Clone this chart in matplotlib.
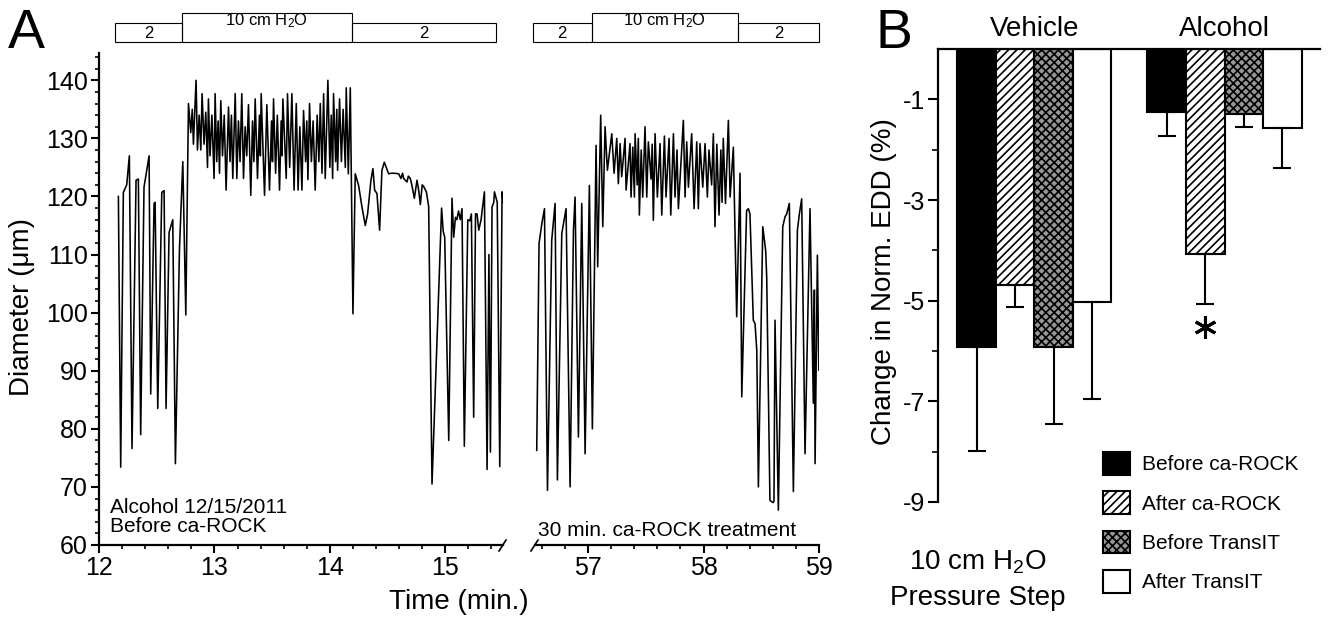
import numpy as np
import matplotlib
matplotlib.use('Agg')
import matplotlib.pyplot as plt
import matplotlib.transforms as mtransforms
from matplotlib.patches import Rectangle
from matplotlib.lines import Line2D
from matplotlib.ticker import MultipleLocator, FixedLocator

plt.rcParams['font.family'] = ['Liberation Sans', 'DejaVu Sans']
plt.rcParams['mathtext.fontset'] = 'custom'
plt.rcParams['mathtext.rm'] = 'Liberation Sans'
plt.rcParams['mathtext.it'] = 'Liberation Sans:italic'
plt.rcParams['axes.unicode_minus'] = False
plt.rcParams['hatch.linewidth'] = 1.2

# ---- panel A: diameter traces (min, um) ----
trace1_t = [12.168, 12.188, 12.211, 12.240, 12.263, 12.286, 12.321, 12.341, 12.361, 12.390,
            12.434, 12.448, 12.477, 12.486, 12.509, 12.544, 12.564, 12.581, 12.607, 12.639,
            12.662, 12.697, 12.726, 12.752, 12.775,
            12.795, 12.808, 12.818, 12.841, 12.853, 12.868, 12.882, 12.893, 12.910, 12.925,
            12.940, 12.948, 12.962, 12.978, 12.997, 13.006, 13.020, 13.032, 13.044, 13.055,
            13.070, 13.085, 13.101, 13.122, 13.135, 13.147, 13.159, 13.180, 13.194, 13.208,
            13.222, 13.237, 13.252, 13.266, 13.280, 13.295, 13.315, 13.330, 13.342, 13.353,
            13.373, 13.390, 13.398, 13.405, 13.434, 13.454, 13.477, 13.495, 13.503, 13.512,
            13.530, 13.545, 13.564, 13.578, 13.585, 13.593, 13.622, 13.633, 13.652, 13.671,
            13.690, 13.709, 13.725, 13.740, 13.758, 13.772, 13.790, 13.800, 13.810, 13.824,
            13.840, 13.855, 13.873, 13.890, 13.905, 13.917, 13.932, 13.946, 13.960, 13.983,
            14.000, 14.012, 14.024, 14.032, 14.050, 14.060, 14.067, 14.084, 14.100, 14.115,
            14.134, 14.142, 14.160, 14.177,
            14.200, 14.220, 14.249, 14.278, 14.307, 14.327, 14.356, 14.373, 14.388, 14.408,
            14.431, 14.451, 14.472, 14.509, 14.530, 14.560, 14.596, 14.616, 14.630, 14.639,
            14.668, 14.680, 14.697, 14.710, 14.732, 14.755, 14.770, 14.784, 14.800, 14.813,
            14.836, 14.856, 14.885,
            14.968, 14.982, 14.995, 15.030, 15.058, 15.073, 15.088, 15.100, 15.115, 15.130,
            15.145, 15.165, 15.195, 15.212, 15.226, 15.246, 15.262, 15.275, 15.290, 15.310,
            15.339, 15.362, 15.378, 15.391, 15.405, 15.420, 15.426, 15.450, 15.472, 15.492,
            15.501]
trace1_d = [120, 73.4, 120.7, 122, 127, 76.6, 122.8, 123, 79, 121.6,
            127, 86, 118.8, 119, 83.5, 120.7, 121, 83.5, 113.8, 116,
            74, 110.9, 126, 99.6, 136,
            131, 135, 129, 140, 128, 134, 128, 137.7, 129, 134.5,
            125, 136.8, 127, 134, 123.1, 137.7, 126, 133, 124, 136.5,
            127, 134, 121.1, 135.4, 126, 134, 123.1, 137.7, 123.1, 133,
            126, 137.7, 123.1, 132, 127, 135.8, 120.2, 133, 126, 136.8,
            123.1, 134, 127, 137.7, 120.2, 135.8, 121.1, 133, 126, 136.8,
            124, 134, 121.1, 133, 127, 136.8, 123.1, 137.7, 125, 137.7,
            121.1, 136, 121.1, 132, 121.1, 134.8, 126, 133, 122.9, 136,
            126, 133, 121.1, 134, 126, 136, 124, 137.7, 123.1, 140,
            125, 134, 123.1, 137.7, 126, 135, 124.5, 136.8, 126, 135,
            125, 138.7, 123.9, 138.7,
            99.8, 123.9, 121.9, 118.2, 115, 117, 122.8, 124.8, 121.1, 120.5,
            114.2, 124.5, 125.9, 123.9, 124, 124, 123.9, 123.1, 124, 123.1,
            122.5, 123.5, 123.1, 122, 119.7, 122.8, 121, 118.6, 122, 121.7,
            120.8, 118.3, 70.5,
            118, 114, 113, 78, 119.7, 113, 116.4, 116, 117.5, 116,
            117.9, 77, 116, 115.8, 117, 82, 117, 117, 114.2, 116,
            120.8, 73, 110, 76, 118.2, 119, 120.8, 119, 73.5, 120.8,
            119]

trace2_t = [56.555, 56.575, 56.599, 56.622, 56.648, 56.685, 56.714, 56.734, 56.772, 56.809,
            56.844, 56.873, 56.887, 56.916, 56.945, 56.974, 57.011, 57.037, 57.069, 57.083,
            57.109, 57.127, 57.147, 57.167, 57.205, 57.225, 57.248, 57.262, 57.277, 57.291,
            57.320, 57.329, 57.363, 57.372, 57.387, 57.401, 57.407, 57.425, 57.435, 57.444,
            57.460, 57.473, 57.493, 57.508, 57.522, 57.545, 57.555, 57.565, 57.580, 57.600,
            57.623, 57.638, 57.661, 57.675, 57.701, 57.716, 57.739, 57.753, 57.770, 57.782,
            57.825, 57.840, 57.854, 57.869, 57.897, 57.918, 57.941, 57.955, 57.969, 57.993,
            58.013, 58.033, 58.047, 58.070, 58.085, 58.099, 58.115, 58.134, 58.150, 58.160,
            58.171, 58.190, 58.215, 58.230, 58.258, 58.287, 58.316, 58.331, 58.373, 58.388,
            58.402, 58.431, 58.446, 58.461, 58.475, 58.513, 58.538, 58.547, 58.575, 58.600,
            58.610, 58.619, 58.648, 58.686, 58.706, 58.720, 58.743, 58.778, 58.813, 58.830,
            58.850, 58.879, 58.922, 58.951, 58.960, 58.966, 58.986, 58.998]
trace2_d = [76.3, 111.9, 115.3, 117.9, 69.4, 112.5, 118.8, 71.2, 113.6, 117.9,
            70, 114.2, 119.9, 78.6, 118.8, 75.7, 121.9, 80, 128.8, 107.9,
            134, 114.8, 132, 124.5, 130.8, 124, 130, 122.2, 129.1, 123.4,
            130, 121.1, 129.1, 119.9, 128.5, 119.9, 130.8, 122, 130, 116.8,
            128, 119.9, 132, 119.9, 129.4, 123, 129, 115.9, 130.8, 119.9,
            129.1, 116.8, 130.4, 119.9, 130, 116.8, 130.8, 119.9, 128, 117.9,
            133.1, 119.9, 129.4, 121.6, 130.8, 117.9, 129.4, 117.9, 129.1, 121.6,
            129.1, 119.9, 128, 122, 130.8, 114.8, 129, 116.8, 128, 119,
            130, 118.8, 133.1, 119.9, 128.5, 99.3, 124, 85.5, 117.6, 117.9,
            117, 98.7, 98.1, 93.5, 70, 114.8, 110.7, 106.2, 67.7, 67.3,
            67.5, 98.7, 66, 114.8, 116.5, 117, 118.8, 69.2, 114.2, 117,
            119.6, 75.7, 117.9, 84.4, 103.9, 74, 109.9, 90.1]

# pressure protocol boxes (min): 2 / 10 cm H2O / 2
steps1 = [12.14, 12.72, 14.19, 15.44]
steps2 = [56.52, 57.03, 58.30, 59.0]
step_labels = ['2', '10 cm H$_2$O', '2']

# ---- panel B: change in normalized EDD (%) ----
groups = ['Vehicle', 'Alcohol']
conditions = ['Before ca-ROCK', 'After ca-ROCK', 'Before TransIT', 'After TransIT']
vehicle_mean = [-5.93, -4.68, -5.93, -5.02]
vehicle_sem = [2.05, 0.44, 1.53, 1.93]
alcohol_mean = [-1.25, -4.07, -1.29, -1.57]
alcohol_sem = [0.48, 1.00, 0.26, 0.79]
significant = [False, True, False, False]  # alcohol group

W, H = 1329, 618
def fx(x):
  return x / float(W)
def fy(y):
  return 1.0 - y / float(H)

fig = plt.figure(figsize=(W / 100.0, H / 100.0), dpi=100)

ax1 = fig.add_axes([fx(99), fy(545), fx(503) - fx(99), (545 - 53) / float(H)])
ax2 = fig.add_axes([fx(535), fy(545), fx(819) - fx(535), (545 - 53) / float(H)])

ax1.plot(trace1_t, trace1_d, color='black', lw=1.15)
ax2.plot(trace2_t, trace2_d, color='black', lw=1.15)

for ax in ax1, ax2:
  ax.set_ylim(60, 144.7)
  for s in ['top', 'right']:
    ax.spines[s].set_visible(False)
  for s in ['left', 'bottom']:
    ax.spines[s].set_linewidth(1.6)
  ax.tick_params(which='major', direction='out', length=6, width=1.5, labelsize=18, pad=2)
  ax.tick_params(which='minor', direction='out', length=3, width=1.2)
  ax.xaxis.set_minor_locator(MultipleLocator(0.2))

ax1.set_xlim(12, 15.5)
ax1.xaxis.set_major_locator(FixedLocator([12, 13, 14, 15]))
ax1.yaxis.set_major_locator(MultipleLocator(10))
ax1.yaxis.set_minor_locator(MultipleLocator(2))

ax2.set_xlim(56.54, 59.0)
ax2.xaxis.set_major_locator(FixedLocator([57, 58, 59]))
ax2.spines['left'].set_visible(False)
ax2.tick_params(axis='y', which='both', left=False, labelleft=False)

# protocol boxes above each trace
for ax, edges in [(ax1, steps1), (ax2, steps2)]:
  trans = mtransforms.blended_transform_factory(ax.transData, fig.transFigure)
  for i in range(3):
    x0, x1 = edges[i], edges[i + 1]
    top = fy(13) if i == 1 else fy(23)
    ax.add_patch(Rectangle((x0, fy(42)), x1 - x0, top - fy(42), transform=trans,
                           fill=False, ec='black', lw=0.8, clip_on=False))
    ty = fy(21) if i == 1 else fy(33)
    ax.text((x0 + x1) / 2.0, ty, step_labels[i], transform=trans, ha='center', va='center', fontsize=12)

# axis break marks
fig.add_artist(Line2D([fx(499), fx(506)], [fy(551), fy(540)], color='black', lw=1.2))
fig.add_artist(Line2D([fx(531), fx(538)], [fy(551), fy(540)], color='black', lw=1.2))

fig.text(fx(110), fy(513), 'Alcohol 12/15/2011', fontsize=15, va='baseline')
fig.text(fx(110), fy(532), 'Before ca-ROCK', fontsize=15, va='baseline')
fig.text(fx(538), fy(536), '30 min. ca-ROCK treatment', fontsize=15, va='baseline')
fig.text(fx(459), fy(609), 'Time (min.)', fontsize=20, ha='center', va='baseline')
fig.text(fx(22), fy(307), 'Diameter (\u03bcm)', fontsize=20, rotation=90, ha='center', va='center')

# ---- panel B ----
axB = fig.add_axes([fx(938), fy(502), fx(1320) - fx(938), (502 - 49) / float(H)])
group_x = [2.5, 7.44]
offsets = [-1.5, -0.5, 0.5, 1.5]
faces = ['black', 'white', '#969696', 'white']
hatches = [None, '////', 'xxxx', None]

handles = []
for j in range(len(conditions)):
  xs = [group_x[0] + offsets[j], group_x[1] + offsets[j]]
  means = [vehicle_mean[j], alcohol_mean[j]]
  sems = [vehicle_sem[j], alcohol_sem[j]]
  b = axB.bar(xs, means, width=1.0, color=faces[j], edgecolor='black', lw=1.5, hatch=hatches[j])
  axB.errorbar(xs, means, yerr=[sems, [0, 0]], fmt='none', ecolor='black',
               elinewidth=1.5, capsize=6.5, capthick=1.5)
  handles.append(b)
  if significant[j]:
    axB.plot(xs[1], means[1] - sems[1] - 0.46, marker=(6, 2, 0), ms=16, mew=2.2, color='black')

axB.set_xlim(0, 9.92)
axB.set_ylim(-9, 0)
for s in ['bottom', 'right']:
  axB.spines[s].set_visible(False)
for s in ['top', 'left']:
  axB.spines[s].set_linewidth(1.6)
axB.set_xticks([])
axB.yaxis.set_major_locator(FixedLocator([-1, -3, -5, -7, -9]))
axB.yaxis.set_minor_locator(FixedLocator([-2, -4, -6, -8]))
axB.tick_params(which='major', direction='out', length=7, width=1.5, labelsize=18, pad=2)
axB.tick_params(which='minor', direction='out', length=4, width=1.2)

for g, name in zip(group_x, groups):
  axB.text(g, 0.26, name, ha='center', va='baseline', fontsize=20)

axB.legend(handles, conditions, loc='upper left', bbox_to_anchor=(fx(1103), fy(452)),
           bbox_transform=fig.transFigure, frameon=False, fontsize=15,
           handlelength=1.3, handleheight=1.3, labelspacing=0.8, handletextpad=0.55,
           borderpad=0, borderaxespad=0)

fig.text(fx(884), fy(282), 'Change in Norm. EDD (%)', fontsize=20, rotation=90, ha='center', va='center')
fig.text(fx(978), fy(562), '10 cm H$_2$O', fontsize=20, ha='center', va='center')
fig.text(fx(978), fy(598), 'Pressure Step', fontsize=20, ha='center', va='center')

fig.text(fx(8), fy(48), 'A', fontsize=40, va='baseline')
fig.text(fx(876), fy(48), 'B', fontsize=40, va='baseline')

fig.savefig('out.png', dpi=100)
